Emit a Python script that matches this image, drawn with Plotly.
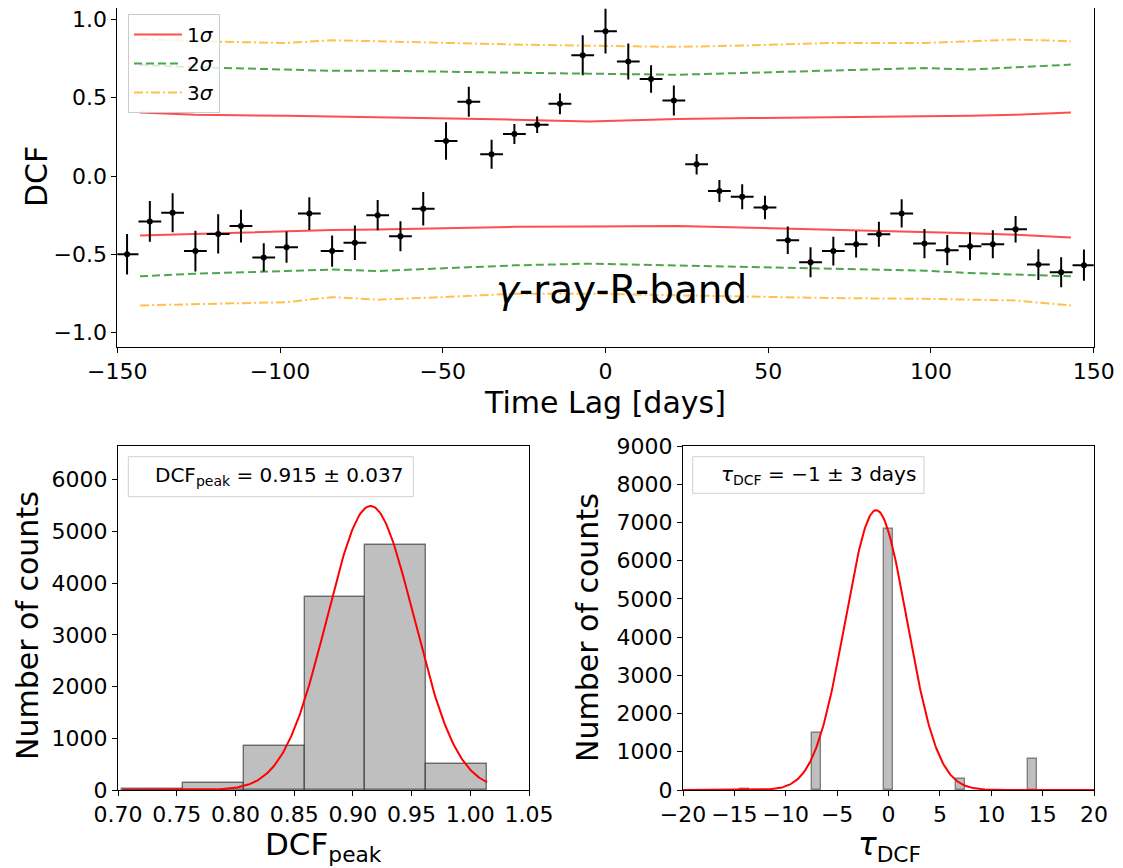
import numpy as np
import plotly.graph_objects as go

# ---------------- data: top panel (DCF vs time lag) ----------------
lags = [-147, -140, -133, -126, -119, -112, -105, -98, -91, -84, -77, -70, -63, -56,
        -49, -42, -35, -28, -21, -14, -7, 0, 7, 14, 21, 28, 35, 42, 49, 56, 63, 70,
        77, 84, 91, 98, 105, 112, 119, 126, 133, 140, 147]
dcf = [-0.50, -0.29, -0.235, -0.48, -0.37, -0.32, -0.52, -0.455, -0.24, -0.48, -0.427,
       -0.25, -0.385, -0.21, 0.224, 0.474, 0.139, 0.269, 0.327, 0.462, 0.771, 0.925,
       0.731, 0.62, 0.483, 0.075, -0.096, -0.132, -0.201, -0.41, -0.551, -0.48, -0.436,
       -0.372, -0.239, -0.432, -0.474, -0.449, -0.436, -0.34, -0.566, -0.615, -0.57]
dcf_err = [0.13, 0.13, 0.125, 0.13, 0.125, 0.105, 0.09, 0.10, 0.105, 0.10, 0.11,
           0.096, 0.096, 0.107, 0.12, 0.096, 0.092, 0.064, 0.053, 0.067, 0.128, 0.143,
           0.115, 0.088, 0.096, 0.066, 0.07, 0.08, 0.075, 0.088, 0.096, 0.092, 0.085,
           0.08, 0.09, 0.093, 0.097, 0.09, 0.09, 0.085, 0.098, 0.096, 0.10]
lag_halfbin = 3.5

sig_lag = [-143, -126, -98, -84, -70, -50, -28, -5, 22, 45, 70, 98, 112, 126, 143]
sig1_up = [0.406, 0.391, 0.385, 0.380, 0.378, 0.370, 0.360, 0.348, 0.365, 0.370, 0.374, 0.380, 0.385, 0.391, 0.406]
sig1_lo = [-0.380, -0.370, -0.355, -0.345, -0.342, -0.335, -0.325, -0.322, -0.320, -0.330, -0.342, -0.355, -0.365, -0.375, -0.393]
sig2_up = [0.710, 0.695, 0.680, 0.672, 0.673, 0.665, 0.660, 0.654, 0.647, 0.660, 0.675, 0.690, 0.680, 0.695, 0.712]
sig2_lo = [-0.641, -0.624, -0.607, -0.598, -0.607, -0.592, -0.571, -0.560, -0.571, -0.580, -0.592, -0.605, -0.620, -0.630, -0.641]
sig3_up = [0.876, 0.861, 0.850, 0.867, 0.861, 0.850, 0.840, 0.833, 0.825, 0.835, 0.850, 0.850, 0.860, 0.872, 0.861]
sig3_lo = [-0.827, -0.820, -0.806, -0.774, -0.790, -0.774, -0.752, -0.752, -0.763, -0.774, -0.780, -0.785, -0.790, -0.795, -0.827]

# ---------------- data: bottom-left histogram (DCF peak) ----------------
peak_edges = [0.7035, 0.7553, 0.8071, 0.8589, 0.9107, 0.9625, 1.0143]
peak_counts = [25, 140, 858, 3740, 4738, 500]
peak_fit_amp = 5490
peak_fit_mean = 0.915
peak_fit_sigma = 0.037

# ---------------- data: bottom-right histogram (tau DCF) ----------------
tau_centers = [-14, -7, 0, 7, 14]
tau_counts = [30, 1500, 6820, 290, 820]
tau_bar_width = 0.84
tau_fit_amp = 7320
tau_fit_mean = -1.2
tau_fit_sigma = 3.0

# page body has an 8px margin: the figure is drawn 8px in from the window edge
OFF = 8
W, H = 1123 - OFF, 868 - OFF
FONT = "DejaVu Sans"


def px(x):
    return (x - OFF) / W


def py(y):
    return min(1.0, 1 - (y - OFF) / H)


fig = go.Figure()

# sigma lines
red = "rgba(255,0,0,0.7)"
green = "rgba(0,128,0,0.7)"
orange = "rgba(255,165,0,0.7)"
for up, lo, col, dash, name in [
    (sig1_up, sig1_lo, red, "solid", "1<i>σ</i>"),
    (sig2_up, sig2_lo, green, "8px,4px", "2<i>σ</i>"),
    (sig3_up, sig3_lo, orange, "9px,3px,2px,3px", "3<i>σ</i>"),
]:
    fig.add_trace(go.Scatter(x=sig_lag, y=up, mode="lines", name=name,
                             line=dict(color=col, width=2, dash=dash),
                             xaxis="x", yaxis="y", showlegend=True))
    fig.add_trace(go.Scatter(x=sig_lag, y=lo, mode="lines", name=name,
                             line=dict(color=col, width=2, dash=dash),
                             xaxis="x", yaxis="y", showlegend=False))

# DCF points
fig.add_trace(go.Scatter(
    x=lags, y=dcf, mode="markers",
    marker=dict(color="black", size=6),
    error_y=dict(type="data", array=dcf_err, color="black", thickness=2, width=0),
    error_x=dict(type="constant", value=lag_halfbin, color="black", thickness=2, width=0),
    xaxis="x", yaxis="y", showlegend=False))

# bottom-left histogram
pe = np.array(peak_edges)
fig.add_trace(go.Bar(
    x=(pe[:-1] + pe[1:]) / 2, y=peak_counts, width=np.diff(pe),
    marker=dict(color="#bfbfbf", line=dict(color="rgba(0,0,0,0.5)", width=1.4)),
    xaxis="x2", yaxis="y2", showlegend=False))
xg = np.linspace(pe[0], pe[-1], 300)
fig.add_trace(go.Scatter(
    x=xg, y=peak_fit_amp * np.exp(-0.5 * ((xg - peak_fit_mean) / peak_fit_sigma) ** 2),
    mode="lines", line=dict(color="red", width=2),
    xaxis="x2", yaxis="y2", showlegend=False))

# bottom-right histogram
fig.add_trace(go.Bar(
    x=tau_centers, y=tau_counts, width=tau_bar_width,
    marker=dict(color="#bfbfbf", line=dict(color="#808080", width=1.4)),
    xaxis="x3", yaxis="y3", showlegend=False))
xt = np.linspace(-20, 20, 400)
fig.add_trace(go.Scatter(
    x=xt, y=tau_fit_amp * np.exp(-0.5 * ((xt - tau_fit_mean) / tau_fit_sigma) ** 2),
    mode="lines", line=dict(color="red", width=2),
    xaxis="x3", yaxis="y3", showlegend=False))

axis_common = dict(showline=True, mirror=True, linecolor="black", linewidth=1,
                   ticks="outside", ticklen=5, tickwidth=1, tickcolor="black",
                   showgrid=False, zeroline=False, automargin=False,
                   ticklabeloverflow="allow",
                   tickfont=dict(family=FONT, size=22, color="black"))

fig.update_layout(
    width=W, height=H,
    margin=dict(l=0, r=0, t=0, b=0, autoexpand=False),
    paper_bgcolor="white", plot_bgcolor="white",
    font=dict(family=FONT, color="black"),
    bargap=0,
    xaxis=dict(domain=[px(117.3), px(1093.7)], range=[-150, 150], dtick=50,
               anchor="y", **axis_common),
    yaxis=dict(domain=[py(346.7), py(8)], range=[-1.0907, 1.0735],
               tickvals=[-1, -0.5, 0, 0.5, 1], tickformat=".1f",
               anchor="x", **axis_common),
    xaxis2=dict(domain=[px(118), px(529)], range=[0.70, 1.05], dtick=0.05,
                tickformat=".2f", anchor="y2", **axis_common),
    yaxis2=dict(domain=[py(790), py(446)], range=[0, 6650], dtick=1000,
                anchor="x2", **axis_common),
    xaxis3=dict(domain=[px(683), px(1094)], range=[-20, 20], dtick=5,
                anchor="y3", **axis_common),
    yaxis3=dict(domain=[py(790), py(446)], range=[0, 9000], dtick=1000,
                anchor="x3", **axis_common),
    legend=dict(x=px(128), y=py(14), xanchor="left", yanchor="top",
                bgcolor="rgba(255,255,255,0.8)", bordercolor="#cccccc", borderwidth=1,
                itemwidth=48,
                font=dict(family=FONT, size=20, color="black"), tracegroupgap=0),
)

# legend boxes for the histograms
fig.add_shape(type="rect", xref="paper", yref="paper",
              x0=px(128.3), x1=px(413.3), y0=py(496.7), y1=py(456.7),
              line=dict(color="#d0d0d0", width=1), fillcolor="white")
fig.add_shape(type="rect", xref="paper", yref="paper",
              x0=px(692.7), x1=px(924), y0=py(493.3), y1=py(456.7),
              line=dict(color="#d0d0d0", width=1), fillcolor="white")

ann = []
ann.append(dict(text="DCF<sub>peak</sub> = 0.915 ± 0.037", x=px(153), y=py(476),
                xanchor="left", yanchor="middle", font=dict(size=20)))
ann.append(dict(text="<i>τ</i><sub>DCF</sub> = −1 ± 3 days", x=px(719), y=py(475),
                xanchor="left", yanchor="middle", font=dict(size=20)))
ann.append(dict(text="<i>γ</i>-ray-R-band", x=px(621), y=py(290),
                xanchor="center", yanchor="middle", font=dict(size=39)))
ann.append(dict(text="DCF", x=px(36), y=py(177), textangle=-90,
                xanchor="center", yanchor="middle", font=dict(size=30)))
ann.append(dict(text="Time Lag [days]", x=px(605), y=py(402),
                xanchor="center", yanchor="middle", font=dict(size=30)))
ann.append(dict(text="Number of counts", x=px(27), y=py(626), textangle=-90,
                xanchor="center", yanchor="middle", font=dict(size=30)))
ann.append(dict(text="Number of counts", x=px(587), y=py(628), textangle=-90,
                xanchor="center", yanchor="middle", font=dict(size=30)))
ann.append(dict(text="DCF<sub>peak</sub>", x=px(323), y=py(846),
                xanchor="center", yanchor="middle", font=dict(size=31)))
ann.append(dict(text="<i>τ</i><sub>DCF</sub>", x=px(889), y=py(846),
                xanchor="center", yanchor="middle", font=dict(size=31)))
for a in ann:
    a.update(xref="paper", yref="paper", showarrow=False)
    a["font"].update(family=FONT, color="black")
fig.update_layout(annotations=ann)

fig.write_html("out.html")
